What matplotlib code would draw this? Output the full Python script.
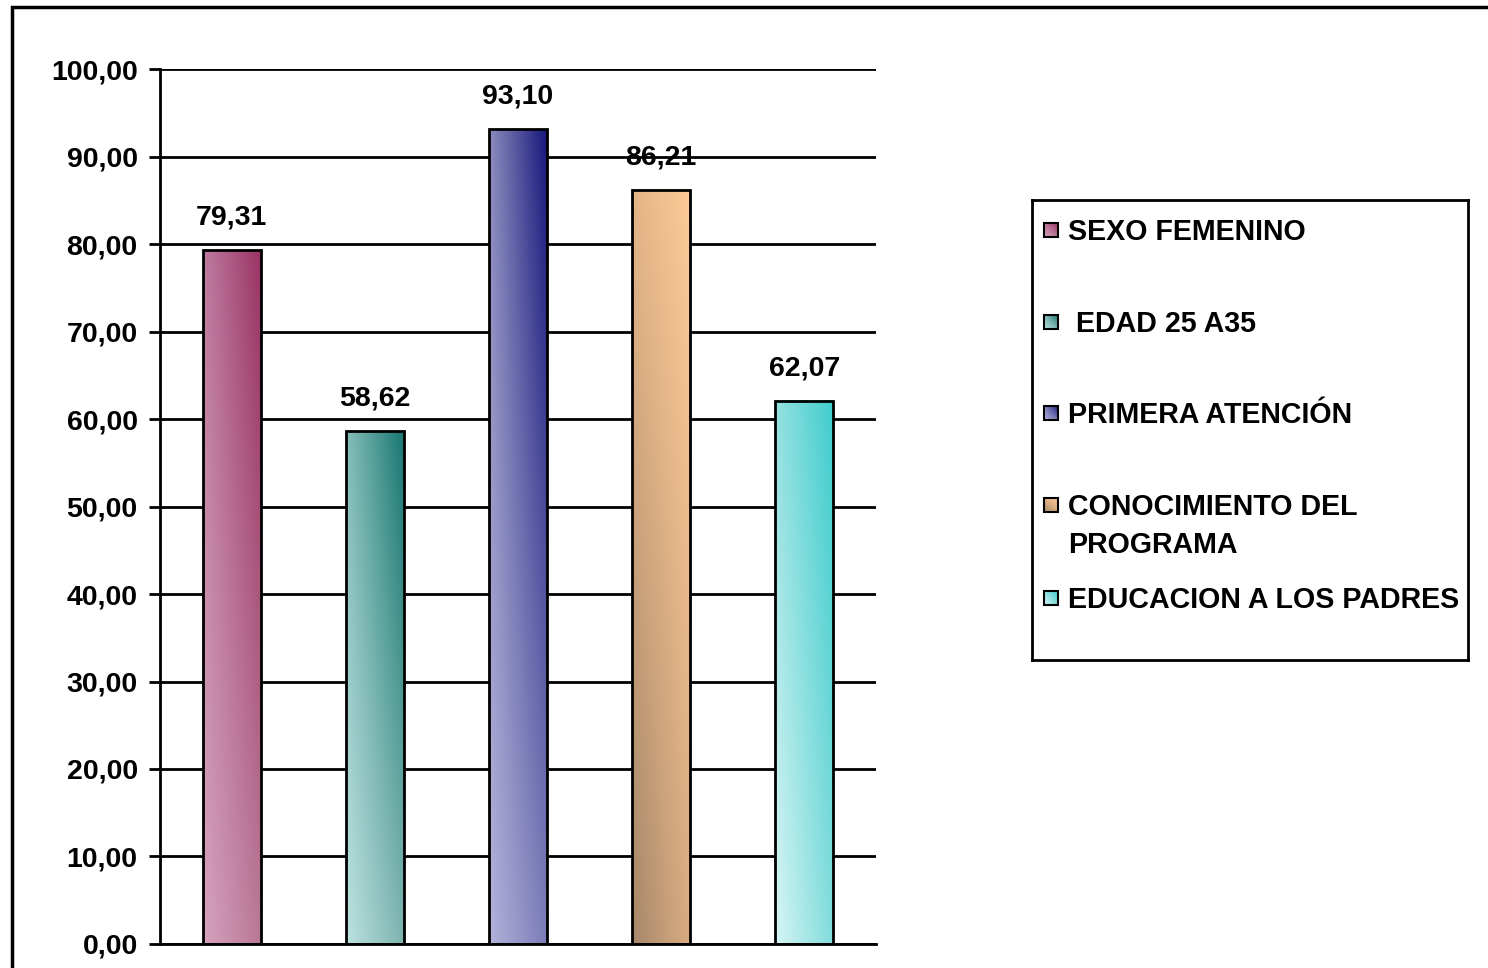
import numpy as np
import matplotlib.pyplot as plt
from matplotlib.patches import Rectangle

plt.rcParams['font.family'] = ['Liberation Sans', 'DejaVu Sans']
plt.rcParams['font.weight'] = 'bold'

categories = ['SEXO FEMENINO', ' EDAD 25 A35', 'PRIMERA ATENCIÓN',
              'CONOCIMIENTO DEL\nPROGRAMA', 'EDUCACION A LOS PADRES']
values = [79.31, 58.62, 93.10, 86.21, 62.07]
labels = ['79,31', '58,62', '93,10', '86,21', '62,07']
yticks = np.arange(0, 101, 10)
ytick_labels = ['%.2f' % v for v in yticks]
ytick_labels = [s.replace('.', ',') for s in ytick_labels]

# gradient corner colours per bar: top-left, top-right, bottom-left, bottom-right
grad = [
    [(190, 125, 160), (155, 52, 100), (214, 162, 190), (185, 120, 150)],
    [(135, 190, 185), (25, 120, 115), (188, 226, 224), (125, 180, 175)],
    [(140, 140, 190), (25, 25, 125), (178, 178, 218), (125, 125, 185)],
    [(228, 180, 135), (253, 202, 152), (165, 135, 105), (218, 172, 130)],
    [(150, 225, 225), (65, 205, 205), (215, 245, 245), (130, 220, 220)],
]


def gradient_img(c, n=64):
    tl, tr, bl, br = [np.array(x) / 255.0 for x in c]
    u = np.linspace(0, 1, n)[None, :, None]
    v = np.linspace(0, 1, n)[:, None, None]  # 0 = top row
    top = tl * (1 - u) + tr * u
    bot = bl * (1 - u) + br * u
    return top * (1 - v) + bot * v


fig = plt.figure(figsize=(14.88, 9.68), dpi=100)
ax = fig.add_axes([0.1075, 0.0248, 0.4812, 0.9039])

width = 0.405
for i, (v, lab) in enumerate(zip(values, labels)):
    ax.imshow(gradient_img(grad[i]), extent=(i - width / 2, i + width / 2, 0, v),
              aspect='auto', zorder=3, interpolation='bilinear')
    ax.bar(i, v, width=width, facecolor='none', edgecolor='black', linewidth=2, zorder=4)
    ax.annotate(lab, (i, v), xytext=(0, 14), textcoords='offset points',
                ha='center', va='bottom', fontsize=20.5, fontweight='bold')

ax.set_xlim(-0.5, 4.5)
ax.set_ylim(0, 100)
ax.set_yticks(yticks)
ax.set_yticklabels(ytick_labels, fontsize=20.5, fontweight='bold')
ax.set_xticks([])
ax.tick_params(axis='y', length=8, width=2, pad=8)
ax.yaxis.grid(True, color='black', linewidth=2)
ax.set_axisbelow(True)
for s in ['top', 'right']:
    ax.spines[s].set_visible(False)
ax.spines['left'].set_linewidth(2)
ax.spines['bottom'].set_linewidth(2)
ax.spines['bottom'].set_zorder(5)

# legend
lax = fig.add_axes([0.6935, 0.3182, 0.2930, 0.4752])
lax.set_xlim(0, 436)
lax.set_ylim(460, 0)
lax.set_xticks([])
lax.set_yticks([])
for s in lax.spines.values():
    s.set_linewidth(2)
leg_y = [30, 122, 213, 305, 398]
for i, (cat, y) in enumerate(zip(categories, leg_y)):
    lax.imshow(gradient_img(grad[i]), extent=(12, 26, y + 7, y - 7),
               aspect='auto', interpolation='bilinear')
    lax.add_patch(Rectangle((12, y - 7), 14, 14, facecolor='none',
                            edgecolor='black', linewidth=1.5))
    lax.text(36, y - 12, cat, fontsize=20.6, fontweight='bold', va='top',
             ha='left', linespacing=1.47)

# outer frame
fig.add_artist(Rectangle((0.00806, -0.05), 1.1, 1.0428, transform=fig.transFigure,
                         facecolor='none', edgecolor='black', linewidth=2.5))

fig.savefig('out.png', dpi=100)
